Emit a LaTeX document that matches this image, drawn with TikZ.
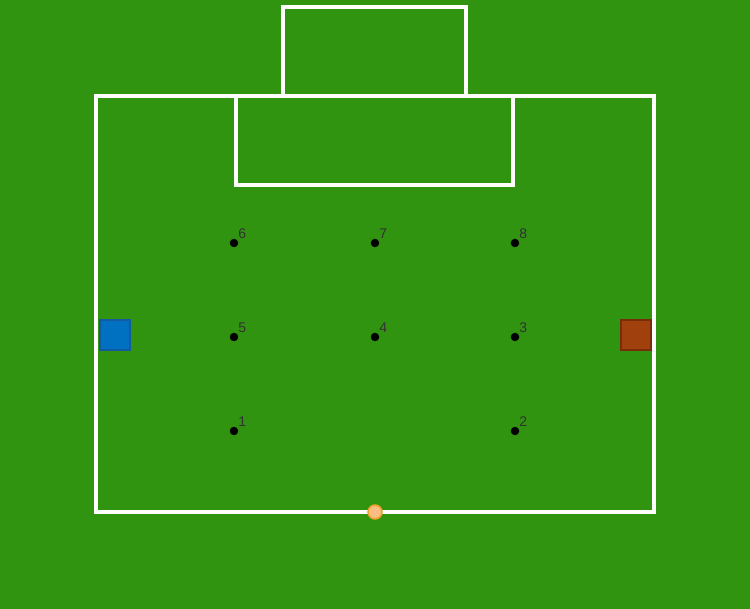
\documentclass[tikz,border=0pt]{standalone}
\usepackage{fontspec}
\setsansfont{Liberation Sans}
\usepackage{xcolor}
\usetikzlibrary{positioning}
\definecolor{pitch}{RGB}{49,148,16}
\definecolor{blueteam}{RGB}{0,112,192}
\definecolor{blueedge}{RGB}{20,90,160}
\definecolor{redteam}{RGB}{160,64,12}
\definecolor{rededge}{RGB}{120,44,8}
\definecolor{ballfill}{RGB}{250,190,130}
\definecolor{balledge}{RGB}{240,160,40}
\definecolor{labelgray}{RGB}{50,50,50}
\tikzset{
  line/.style={draw=white, line width=4pt},
  spot/.style={circle, fill=black, inner sep=0pt, minimum size=8.5pt},
  spotlabel/.style={font=\sffamily\fontsize{14}{14}\selectfont, text=labelgray, inner sep=0pt},
  team/.style={rectangle, minimum size=30pt, inner sep=0pt, line width=2pt}
}
\begin{document}
\begin{tikzpicture}[x=1pt, y=-1pt]
  \fill[pitch] (0,0) rectangle (750,609);
  \useasboundingbox (0,0) rectangle (750,609);
  % Field lines
  \draw[line] (96,96) rectangle (654,512);
  \draw[line] (236,96) rectangle (513,185);
  \draw[line] (283,96) -- (283,7) -- (466,7) -- (466,96);
  % Spots
  \foreach \n/\x/\y in {1/234/431, 2/515/431, 3/515/337, 4/375/337,
                        5/234/337, 6/234/243, 7/375/243, 8/515/243} {
    \node[spot] (p\n) at (\x,\y) {};
    \node[spotlabel, anchor=south west] (l\n) at ([xshift=1pt, yshift=1pt]p\n.north east) {\n};
  }
  % Teams
  \node[team, fill=blueteam, draw=blueedge] (blue) at (114.5,335.5) {};
  \node[team, fill=redteam, draw=rededge] (red) at (635.5,335.5) {};
  % Ball
  \node[circle, fill=ballfill, draw=balledge, line width=1.5pt, minimum size=14pt, inner sep=0pt] (ball) at (375,512) {};
\end{tikzpicture}
\end{document}
